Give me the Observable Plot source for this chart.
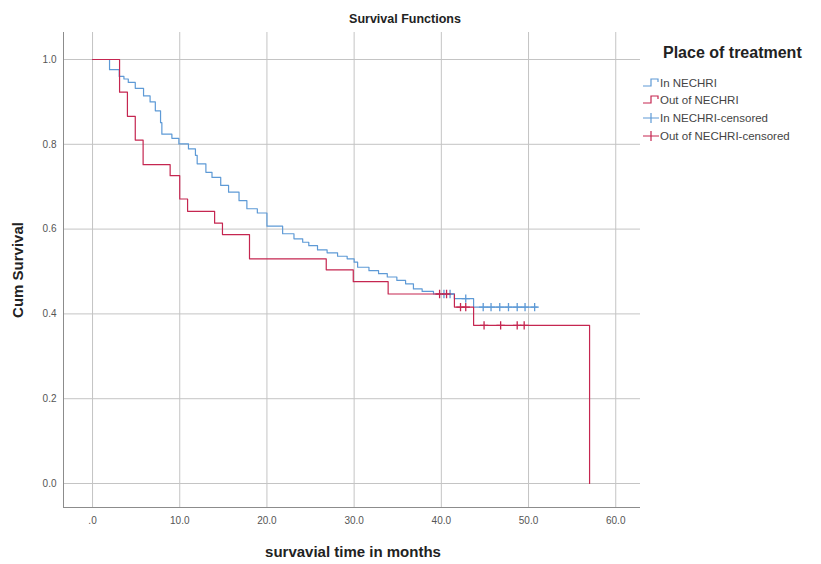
<!DOCTYPE html>
<html>
<head>
<meta charset="utf-8">
<script src="https://cdn.jsdelivr.net/npm/d3@7"></script>
<script src="https://cdn.jsdelivr.net/npm/@observablehq/plot@0.6"></script>
<style>
  html, body { margin: 0; padding: 0; background: #fff; }
  #chart { position: relative; width: 821px; height: 564px; }
  svg { font-family: "Liberation Sans", Arial, sans-serif; }
</style>
</head>
<body>
<div id="chart"></div>
<script>
// ---- data ----
const seriesNames = ["In NECHRI", "Out of NECHRI"];
const legendLabels = ["In NECHRI", "Out of NECHRI", "In NECHRI-censored", "Out of NECHRI-censored"];

// In NECHRI: step times (months) and cumulative survival after each step
const inTimes = [0, 1.95, 3.06, 3.6, 4.1, 4.9, 5.85, 6.6, 7.2, 7.8, 7.95, 9.1, 9.9, 11.0, 11.8, 12.0, 13.0, 13.7, 14.7, 15.6, 16.8, 17.7, 18.9, 20.0, 21.8, 23.1, 24.1, 24.8, 25.8, 26.9, 28.1, 29.2, 30.0, 30.4, 31.7, 32.8, 33.8, 34.9, 35.9, 36.8, 37.8, 39.1, 41.5, 43.7, 51.0];
const inSurv  = [1, 0.976, 0.960, 0.954, 0.946, 0.932, 0.914, 0.900, 0.879, 0.851, 0.824, 0.814, 0.801, 0.789, 0.774, 0.754, 0.734, 0.722, 0.703, 0.687, 0.667, 0.648, 0.638, 0.607, 0.589, 0.577, 0.569, 0.561, 0.551, 0.544, 0.536, 0.530, 0.522, 0.510, 0.502, 0.495, 0.487, 0.479, 0.471, 0.459, 0.453, 0.447, 0.436, 0.416, 0.416];
// In NECHRI censored observations
const inCensTimes = [40.3, 41.0, 42.8, 44.8, 45.7, 46.7, 47.7, 48.7, 49.6, 50.7];
const inCensSurv  = [0.447, 0.447, 0.436, 0.416, 0.416, 0.416, 0.416, 0.416, 0.416, 0.416];

// Out of NECHRI
const outTimes = [0, 3.1, 4.0, 4.9, 5.8, 8.9, 10.0, 10.9, 14.0, 14.9, 18.0, 26.8, 29.9, 33.9, 41.5, 43.7, 57.0];
const outSurv  = [1, 0.923, 0.866, 0.810, 0.752, 0.726, 0.671, 0.642, 0.614, 0.587, 0.530, 0.504, 0.476, 0.447, 0.416, 0.373, 0];
const outCensTimes = [39.8, 40.6, 42.2, 42.8, 44.9, 46.8, 48.7, 49.5];
const outCensSurv  = [0.447, 0.447, 0.416, 0.416, 0.373, 0.373, 0.373, 0.373];

const xTicks = [0, 10, 20, 30, 40, 50, 60];
const yTicks = [0, 0.2, 0.4, 0.6, 0.8, 1.0];

const colors = {"In NECHRI": "#5e9ad6", "Out of NECHRI": "#c52650"};

// ---- tables ----
const lines = [
  ...inTimes.map((t, i) => ({group: seriesNames[0], t, s: inSurv[i]})),
  ...outTimes.map((t, i) => ({group: seriesNames[1], t, s: outSurv[i]}))
];
const cens = [
  ...inCensTimes.map((t, i) => ({group: seriesNames[0], t, s: inCensSurv[i]})),
  ...outCensTimes.map((t, i) => ({group: seriesNames[1], t, s: outCensSurv[i]}))
];

const W = 821, H = 564;
const mL = 63, mR = 181, mT = 32, mB = 57;
const xDom = [-3.33, 62.84];
const yDom = [-0.0566, 1.0637];

const plot = Plot.plot({
  width: W, height: H,
  marginLeft: mL, marginRight: mR, marginTop: mT, marginBottom: mB,
  style: {fontFamily: '"Liberation Sans", Arial, sans-serif', background: "#fff"},
  x: {domain: xDom},
  y: {domain: yDom},
  color: {domain: seriesNames, range: seriesNames.map(d => colors[d])},
  marks: [
    Plot.gridX(xTicks, {stroke: "#c4c4c4", strokeOpacity: 1, strokeWidth: 1}),
    Plot.gridY(yTicks, {stroke: "#c4c4c4", strokeOpacity: 1, strokeWidth: 1}),
    Plot.ruleX([xDom[0]], {stroke: "#8c8c8c", strokeWidth: 1}),
    Plot.ruleY([yDom[0]], {stroke: "#8c8c8c", strokeWidth: 1}),
    Plot.axisX(xTicks, {tickSize: 0, tickPadding: 9, fontSize: 10, fill: "#555",
      tickFormat: d => d === 0 ? ".0" : d.toFixed(1), label: null}),
    Plot.axisY(yTicks, {tickSize: 0, tickPadding: 7, fontSize: 10, fill: "#555",
      tickFormat: d => d.toFixed(1), label: null}),
    Plot.line(lines, {x: "t", y: "s", z: "group", stroke: "group", curve: "step-after", strokeWidth: 1.2}),
    Plot.dot(cens, {x: "t", y: "s", stroke: "group", symbol: "plus", r: 2.8, strokeWidth: 1.3})
  ]
});
document.getElementById("chart").appendChild(plot);

// ---- titles and legend ----
const svg = d3.select(plot);
svg.append("text").attr("x", 405).attr("y", 23).attr("text-anchor", "middle")
  .attr("font-size", 12.5).attr("font-weight", "bold").attr("fill", "#222").text("Survival Functions");
svg.append("text").attr("transform", "translate(23,270) rotate(-90)").attr("text-anchor", "middle")
  .attr("font-size", 15).attr("font-weight", "bold").attr("fill", "#222").text("Cum Survival");
svg.append("text").attr("x", 353).attr("y", 557).attr("text-anchor", "middle")
  .attr("font-size", 15).attr("font-weight", "bold").attr("fill", "#222").text("survavial time in months");

const lg = svg.append("g").attr("text-anchor", "start");
lg.append("text").attr("x", 663).attr("y", 58).attr("text-anchor", "start").attr("font-size", 16).attr("font-weight", "bold")
  .attr("fill", "#222").text("Place of treatment");
const itemY = [83, 100, 118, 136];
legendLabels.forEach((lab, i) => {
  const y = itemY[i];
  const c = colors[seriesNames[i % 2]];
  if (i < 2) {
    lg.append("path").attr("d", `M643,${y + 3}H651V${y - 4}H658V${y - 1}`)
      .attr("fill", "none").attr("stroke", c).attr("stroke-width", 1.2);
  } else {
    lg.append("path").attr("d", `M643,${y}H659M651,${y - 5}V${y + 5}`)
      .attr("fill", "none").attr("stroke", c).attr("stroke-width", 1.2);
  }
  lg.append("text").attr("x", 660).attr("y", y).attr("dy", "0.35em").attr("text-anchor", "start")
    .attr("font-size", 11.5).attr("fill", "#444").text(lab);
});
</script>
</body>
</html>
